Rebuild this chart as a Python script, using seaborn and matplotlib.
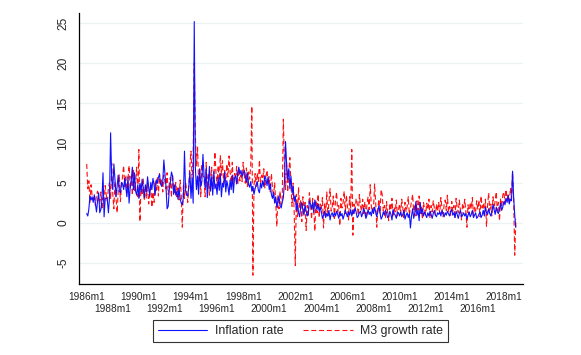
import numpy as np
import pandas as pd
import seaborn as sns
import matplotlib
matplotlib.use("Agg")
import matplotlib.pyplot as plt

# monthly series, 1986m1 - 2018m12
inflation = [
    1.2, 0.9, 1.8, 3.4, 2.9, 3.3, 2.6, 3.5, 2.4, 1.4, 2.8, 3.8,   # 1986
    1.3, 1.7, 2.9, 6.3, 0.8, 3.0, 3.2, 2.9, 1.3, 3.3, 11.3, 5.5,  # 1987
    4.2, 7.4, 5.5, 3.3, 4.6, 6.0, 4.0, 3.8, 5.1, 4.9, 4.2, 5.6,   # 1988
    4.5, 3.3, 5.8, 2.5, 4.4, 5.3, 7.0, 4.2, 6.3, 4.0, 3.5, 4.8,   # 1989
    3.1, 5.0, 3.9, 5.5, 4.4, 3.2, 4.8, 3.9, 5.8, 4.6, 3.4, 5.1,   # 1990
    4.2, 5.6, 4.8, 3.5, 5.4, 5.0, 5.7, 6.1, 4.9, 4.6, 5.2, 7.9,   # 1991
    6.2, 4.5, 1.8, 2.1, 4.2, 5.1, 6.4, 5.9, 3.6, 4.8, 3.5, 4.0,   # 1992
    3.0, 4.4, 3.1, 2.5, 2.3, 3.2, 9.0, 4.1, 3.5, 3.4, 4.6, 6.4,   # 1993
    3.1, 5.6, 2.5, 25.2, 7.0, 4.2, 5.9, 3.6, 6.8, 4.6, 5.2, 8.6,  # 1994
    6.0, 4.4, 6.9, 3.2, 5.0, 7.1, 4.0, 5.8, 3.5, 6.5, 4.3, 4.9,   # 1995
    3.6, 5.7, 4.1, 6.2, 3.3, 5.0, 4.5, 6.4, 3.9, 5.3, 4.6, 3.5,   # 1996
    5.4, 4.2, 6.0, 3.8, 5.6, 5.9, 4.9, 6.3, 7.0, 6.1, 6.6, 5.8,   # 1997
    6.2, 6.6, 5.8, 5.1, 6.3, 4.8, 4.5, 5.2, 4.0, 4.6, 3.6, 4.3,   # 1998
    4.8, 5.2, 4.1, 3.8, 5.0, 4.4, 5.3, 4.6, 5.9, 5.5, 4.7, 5.8,   # 1999
    4.2, 4.9, 3.6, 3.1, 3.9, 2.5, 3.3, 2.0, 2.8, 3.4, 2.2, 1.9,   # 2000
    2.6, 3.2, 5.1, 10.2, 7.4, 5.5, 6.8, 4.3, 5.9, 3.8, 4.6, 2.7,  # 2001
    3.4, 1.6, 2.5, 1.3, 0.8, 2.1, 2.6, 1.6, 1.0, 2.3, 1.5, 0.9,   # 2002
    1.2, 2.8, 2.4, 1.8, 2.6, 1.3, 2.9, 2.1, 1.7, 2.4, 1.5, 2.0,   # 2003
    1.4, 0.6, 1.0, 1.5, 0.7, 1.2, 0.9, 1.6, 0.4, 1.1, 1.3, 0.8,   # 2004
    1.3, 0.9, 1.5, 1.1, 0.6, 1.4, 0.9, 1.2, 0.5, 1.0, 1.6, 1.2,   # 2005
    0.8, 1.4, 1.0, 1.7, 0.9, 1.6, 1.2, 1.9, 1.4, 0.7, 0.9, 1.3,   # 2006
    1.5, 0.8, 1.2, 1.9, 1.3, 0.6, 1.0, 1.7, 1.1, 1.4, 0.9, 1.8,   # 2007
    1.2, 2.0, 1.4, 0.8, 1.5, 2.2, 1.3, 0.5, 0.8, 1.4, 1.0, 1.6,   # 2008
    1.3, 0.7, 0.9, 1.5, 1.1, 0.4, 1.7, 1.2, 1.0, 0.6, 1.4, 1.3,   # 2009
    0.9, 1.4, 0.8, 1.1, 1.6, 0.5, 1.0, 1.3, 0.7, 1.2, -0.6, 0.9,  # 2010
    1.8, 0.6, 1.3, 2.7, 1.0, 1.6, 0.3, 2.6, 1.2, 1.8, 0.9, 1.4,   # 2011
    1.0, 0.7, 1.3, 0.9, 1.5, 1.1, 0.6, 1.2, 1.6, 1.0, 0.8, 1.3,   # 2012
    1.1, 1.4, 0.9, 1.6, 1.2, 0.8, 1.3, 1.0, 1.5, 1.2, 0.9, 1.4,   # 2013
    1.7, 1.0, 1.3, 0.7, 1.5, 1.1, 0.6, 1.2, 1.6, 0.8, 1.0, 1.3,   # 2014
    0.9, 1.2, 0.5, 1.0, 1.4, 0.8, 1.1, 1.6, 0.7, 1.0, 1.3, 0.6,   # 2015
    0.8, 1.1, 1.4, 0.7, 1.0, 1.6, 0.9, 2.0, 1.3, 1.1, 1.8, 1.2,   # 2016
    0.9, 1.5, 2.3, 1.7, 1.1, 2.0, 1.4, 1.2, 1.8, 2.5, 1.6, 2.0,   # 2017
    2.7, 2.3, 3.1, 2.6, 3.5, 2.4, 3.0, 2.8, 6.5, 3.2, 1.0, -0.5,  # 2018
]

m3_growth = [
    7.4, 4.3, 5.3, 2.6, 4.8, 3.4, 2.9, 3.6, 2.2, 3.5, 4.0, 3.1,    # 1986
    2.4, 3.9, 1.7, 3.2, 2.6, 4.7, 3.5, 2.8, 4.4, 5.1, 3.0, 7.5,    # 1987
    3.6, 1.8, 5.2, 3.1, 1.3, 4.0, 6.1, 2.7, 4.5, 5.8, 7.2, 4.6,    # 1988
    6.0, 3.8, 5.5, 7.2, 4.3, 5.9, 3.5, 6.6, 4.1, 5.2, 7.0, 3.3,    # 1989
    9.2, 0.2, 4.8, 3.5, 5.6, 2.8, 4.3, 3.1, 5.0, 2.4, 3.7, 4.9,    # 1990
    2.0, 3.9, 2.6, 5.3, 4.1, 5.8, 3.4, 6.2, 4.7, 5.5, 3.9, 6.0,    # 1991
    5.2, 4.3, 6.3, 3.6, 4.9, 5.7, 3.2, 6.1, 4.4, 3.8, 5.1, 3.3,    # 1992
    4.6, 2.9, 5.4, 3.7, -0.5, 4.9, 3.1, 5.2, 4.0, 2.6, 4.8, 7.3,   # 1993
    9.0, 5.6, 8.4, 20.0, 11.0, 7.1, 9.5, 5.2, 6.7, 3.3, 7.4, 5.9,  # 1994
    5.8, 3.3, 7.6, 4.4, 6.2, 3.5, 5.1, 7.0, 4.2, 5.6, 8.9, 6.3,    # 1995
    4.7, 7.2, 5.3, 8.5, 6.0, 7.8, 4.9, 6.6, 5.2, 7.4, 5.8, 8.4,    # 1996
    6.4, 5.0, 7.6, 4.6, 6.2, 5.5, 7.1, 4.8, 6.8, 5.3, 6.0, 5.2,    # 1997
    7.6, 6.1, 5.0, 6.9, 4.6, 6.4, 5.5, 7.3, 14.6, -6.5, 4.7, 6.2,  # 1998
    4.6, 6.3, 5.2, 7.9, 4.8, 6.0, 5.5, 6.8, 4.4, 5.9, 6.6, 4.9,    # 1999
    5.8, 3.9, 6.2, 4.5, 3.2, 5.1, 2.6, -0.4, 3.5, 1.8, 4.0, 2.3,   # 2000
    3.0, 13.0, 7.5, 4.2, 7.6, 3.9, 6.2, 8.2, 4.8, 2.1, 5.0, 1.3,   # 2001
    -5.3, 3.6, 0.8, 4.5, 1.9, 2.8, 0.2, 3.3, 1.5, 2.6, -0.9, 2.2,  # 2002
    1.0, 3.8, 2.4, 0.5, 3.1, 1.7, -1.0, 2.9, 1.3, 3.6, 0.7, 2.4,   # 2003
    1.8, 3.2, -0.6, 2.5, 1.1, 3.9, 0.9, 2.7, 4.3, 1.5, 2.0, 3.4,   # 2004
    0.6, 2.8, 3.9, 1.4, 2.2, -0.3, 3.1, 1.9, 2.6, 4.0, 1.2, 3.5,   # 2005
    2.1, 0.4, 3.3, 1.8, 9.2, -1.5, 2.4, 1.6, 3.1, 2.5, 1.0, 3.6,   # 2006
    2.2, 1.5, 3.0, 1.2, 2.7, 0.6, 2.4, 3.3, 1.7, 4.8, 2.1, 1.4,    # 2007
    1.8, 4.9, 2.6, -0.5, 1.9, 3.0, 1.2, 4.2, 3.6, 1.5, 2.2, 0.6,   # 2008
    2.7, 1.3, 0.3, 2.5, 1.6, 3.1, 0.8, 2.0, 1.4, 2.9, 0.9, 1.7,    # 2009
    2.4, 1.1, 3.0, 1.8, 0.7, 2.6, 1.4, 2.1, 3.3, 1.0, 1.9, 2.7,    # 2010
    3.6, 1.5, 2.3, 0.9, 2.8, 1.6, 3.4, 1.2, 2.0, 0.5, 2.6, 1.8,    # 2011
    1.1, 2.5, 1.7, 3.0, 0.6, 2.2, 1.4, 2.8, 1.9, 1.0, 2.4, 1.5,    # 2012
    2.6, 1.2, 3.2, 1.9, 0.8, 2.3, 2.9, 1.6, 3.5, 1.4, 2.1, 1.0,    # 2013
    2.7, 1.5, 2.2, 0.6, 3.1, 2.0, 1.3, 2.9, 1.7, 0.4, 2.5, 1.9,    # 2014
    3.0, 1.4, -0.5, 2.3, 1.1, 2.6, 1.8, 3.2, 0.9, 2.0, 1.5, 2.8,   # 2015
    1.7, 2.9, 0.8, 3.4, 1.9, 2.5, 1.2, 3.0, -0.4, 2.2, 3.8, 1.6,   # 2016
    2.4, 0.9, 3.3, 1.8, 2.8, 3.9, 1.5, 2.6, 0.3, 3.1, 2.0, 3.5,    # 2017
    3.9, 2.6, 4.2, 3.0, 3.6, 2.4, 4.4, 3.1, 6.4, 3.0, -4.0, 0.5,   # 2018
]

start_year = 1986
upper_years = list(range(1986, 2019, 4))   # 1986m1, 1990m1, ... on first row
lower_years = list(range(1988, 2017, 4))   # 1988m1, 1992m1, ... on second row
yticks = [-5, 0, 5, 10, 15, 20, 25]

n = len(inflation)
t = start_year + np.arange(n) / 12.0
df = pd.DataFrame({"t": t, "Inflation rate": inflation, "M3 growth rate": m3_growth})

sns.set_style("white")
plt.rcParams["font.family"] = ["Liberation Sans", "DejaVu Sans"]

fig = plt.figure(figsize=(5.81, 3.55), dpi=100)
ax = fig.add_axes([0.136, 0.200, 0.764, 0.763])

for y in yticks:
    ax.axhline(y, color="#eaf2f3", lw=0.9, zorder=0)

sns.lineplot(data=df, x="t", y="Inflation rate", ax=ax, color="#1010ff",
             lw=0.8, label="Inflation rate", zorder=3)
sns.lineplot(data=df, x="t", y="M3 growth rate", ax=ax, color="#ff1010",
             lw=0.8, label="M3 growth rate", zorder=2)
ax.lines[-1].set_dashes((4.5, 2.5))

ax.set_xlim(1985.41, 2019.46)
ax.set_ylim(-7.6, 26.25)
ax.set_xlabel("")
ax.set_ylabel("")

ax.set_yticks(yticks)
ax.set_yticklabels([str(v) for v in yticks], rotation=90, va="center", fontsize=8.6)
ax.set_xticks(upper_years)
ax.set_xticklabels([f"{yr}m1" for yr in upper_years], fontsize=7.3)
ax.set_xticks(lower_years, minor=True)
ax.set_xticklabels([f"{yr}m1" for yr in lower_years], minor=True, fontsize=7.3)
ax.tick_params(axis="both", which="both", direction="out", length=4, width=0.8,
               color="black", pad=2)
ax.tick_params(axis="x", which="minor", pad=10.5)
ax.tick_params(axis="y", pad=3)

for side in ["top", "right"]:
    ax.spines[side].set_visible(False)
for side in ["left", "bottom"]:
    ax.spines[side].set_color("black")
    ax.spines[side].set_linewidth(0.9)

ax.get_legend().remove()
handles, labs = ax.get_legend_handles_labels()
leg = fig.legend(handles, labs, loc="center", bbox_to_anchor=(0.517, 0.068), ncol=2,
                 fontsize=8.9, frameon=True, fancybox=False, handlelength=4.0,
                 columnspacing=1.6, borderpad=0.4, handletextpad=0.6,
                 borderaxespad=0)
leg.get_frame().set_edgecolor("black")
leg.get_frame().set_linewidth(0.8)

fig.savefig("out.png", dpi=100)
